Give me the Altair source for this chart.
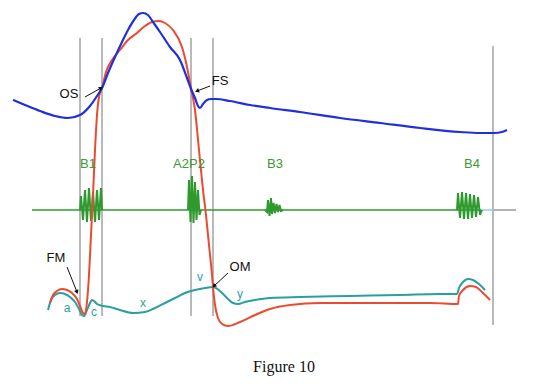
import altair as alt
import pandas as pd
import math

# ---- data (image-like units: x = time, y = inverted pressure) ----
aorta_x = [13, 25, 40, 55, 68, 80, 90, 97, 102, 108, 115, 122, 128, 134, 139, 143, 148, 153, 160, 170, 180, 187, 191, 195, 198, 200, 203, 207, 211, 216, 230, 250, 270, 300, 340, 380, 420, 460, 480, 494, 502, 507]
aorta_y = [100, 105, 111, 116, 118, 115, 106, 96, 88, 73, 57, 42, 30, 20, 14, 13, 15, 22, 32, 47, 60, 78, 89, 98, 106, 108, 104, 100, 99, 99, 101, 105, 108, 112, 118, 123, 128, 132, 133, 133, 132, 130]

lv_x = [50, 53, 57, 62, 67, 72, 77, 80, 83, 85, 87, 89, 91, 93, 95, 97, 99, 102, 106, 112, 120, 128, 137, 145, 152, 159, 165, 173, 182, 185, 188, 191, 195, 199, 203, 206, 209, 212, 213, 215, 218, 222, 228, 240, 255, 270, 290, 320, 380, 430, 458, 459, 463, 470, 476, 482, 490]
lv_y = [303, 295, 291, 289, 290, 293, 299, 306, 313, 314, 302, 275, 235, 195, 150, 115, 97, 88, 72, 60, 50, 40, 33, 26, 22, 21, 23, 30, 47, 58, 72, 88, 110, 150, 190, 215, 245, 275, 287, 305, 318, 324, 326, 322, 315, 309, 305, 303, 303, 303, 304, 296, 290, 286, 287, 292, 300]

la_x = [48, 51, 55, 60, 65, 70, 75, 79, 82, 84, 87, 90, 92, 94, 97, 103, 110, 120, 133, 145, 155, 165, 175, 185, 195, 205, 213, 220, 227, 233, 238, 245, 255, 270, 300, 350, 400, 440, 457, 459, 463, 468, 473, 479, 485]
la_y = [310, 300, 295, 293, 294, 297, 302, 309, 315, 316, 310, 303, 300, 301, 304, 306, 307, 310, 313, 312, 308, 303, 298, 293, 290, 288, 287, 291, 298, 303, 304, 302, 300, 298, 297, 296, 295, 294, 294, 288, 282, 279, 280, 284, 290]

b1_x = [80, 81, 83, 85, 87, 89, 91, 93, 95, 97, 99, 101, 102]
b1_y = [210, 196, 220, 190, 222, 188, 221, 192, 222, 190, 220, 188, 210]
a2p2_x = [188, 189, 190.5, 192, 193.5, 195, 196.5, 198, 199.5, 201]
a2p2_y = [210, 180, 222, 176, 223, 182, 220, 190, 215, 210]
b3_x = [265, 267, 268, 269.5, 271, 272, 273.5, 275, 276.5, 278, 279.5, 281, 283]
b3_y = [210, 212, 200, 216, 198, 214, 203, 213, 204, 212, 205, 211, 210]
b4_x = [457, 458, 460, 462, 464, 466, 468, 470, 472, 474, 476, 478, 480, 482]
b4_y = [210, 193, 218, 192, 219, 193, 219, 194, 218, 195, 217, 197, 215, 210]

phono_x = [32, 481]
phono_level = 210

markers_x = [80, 102, 191, 213, 493]
markers_top = [38, 38, 38, 38, 46]
markers_bot = [316, 316, 316, 316, 325]

sound_labels = ["B1", "A2P2", "B3", "B4"]
sound_lx = [88, 189, 275, 472]
sound_ly = [164, 164, 164, 164]

event_labels = ["OS", "FS", "FM", "OM"]
event_lx = [69, 220, 56, 240]
event_ly = [94, 81, 258, 267]
arrow_x1 = [85, 210, 67, 228]
arrow_y1 = [97, 86, 267, 273]
arrow_x2 = [101, 197, 77, 214]
arrow_y2 = [88, 91, 292, 286]

wave_labels = ["a", "c", "x", "v", "y"]
wave_lx = [67, 94, 143, 200, 240]
wave_ly = [308, 312, 303, 277, 294]

caption = "Figure 10"

# ---- scales mapping the drawing area ----
W, H = 522, 368
xs = alt.Scale(domain=[8, 8 + W], nice=False, zero=False)
ys = alt.Scale(domain=[8, 8 + H], nice=False, zero=False, reverse=True)
X = lambda f: alt.X(f, scale=xs, axis=None)
Y = lambda f: alt.Y(f, scale=ys, axis=None)

def curve(xv, yv, color, width=2, interp="monotone"):
    df = pd.DataFrame({"x": xv, "y": yv, "o": range(len(xv))})
    return alt.Chart(df).mark_line(color=color, strokeWidth=width, interpolate=interp).encode(
        x=X("x:Q"), y=Y("y:Q"), order="o:Q")

rules = alt.Chart(pd.DataFrame({"x": markers_x, "y": markers_top, "y2": markers_bot})).mark_rule(
    color="#8a8a8a", strokeWidth=1.2).encode(x=X("x:Q"), y=Y("y:Q"), y2="y2:Q")

phono = alt.Chart(pd.DataFrame({"x": [phono_x[0]], "x2": [phono_x[1]], "y": [phono_level]})).mark_rule(
    color="#2e9a2e", strokeWidth=1.3).encode(x=X("x:Q"), x2="x2:Q", y=Y("y:Q"))
phono_tail = alt.Chart(pd.DataFrame({"x": [481], "x2": [494], "y": [phono_level]})).mark_rule(
    color="#7ec8e8", strokeWidth=1.3).encode(x=X("x:Q"), x2="x2:Q", y=Y("y:Q"))
phono_end = alt.Chart(pd.DataFrame({"x": [494], "x2": [516], "y": [phono_level]})).mark_rule(
    color="#666666", strokeWidth=1).encode(x=X("x:Q"), x2="x2:Q", y=Y("y:Q"))

green = "#2e9a2e"
bursts = [curve(b1_x, b1_y, green, 2, "linear"), curve(a2p2_x, a2p2_y, green, 2, "linear"),
          curve(b3_x, b3_y, green, 2, "linear"), curve(b4_x, b4_y, green, 2, "linear")]

la = curve(la_x, la_y, "#2a9fa0", 2)
lv = curve(lv_x, lv_y, "#ec4a30", 2)
ao = curve(aorta_x, aorta_y, "#1f2fe0", 2.2)

snd = alt.Chart(pd.DataFrame({"t": sound_labels, "x": sound_lx, "y": sound_ly})).mark_text(
    color="#3a9a34", fontSize=13, font="Liberation Sans").encode(x=X("x:Q"), y=Y("y:Q"), text="t:N")

ev = alt.Chart(pd.DataFrame({"t": event_labels, "x": event_lx, "y": event_ly})).mark_text(
    color="#111111", fontSize=13, font="Liberation Sans").encode(x=X("x:Q"), y=Y("y:Q"), text="t:N")

adf = pd.DataFrame({"x": arrow_x1, "y": arrow_y1, "x2": arrow_x2, "y2": arrow_y2})
adf["ang"] = [(math.degrees(math.atan2(b - a, -(d - c))) + 360) % 360
              for a, b, c, d in zip(arrow_x1, arrow_x2, arrow_y1, arrow_y2)]
shafts = alt.Chart(adf).mark_rule(color="#111111", strokeWidth=1).encode(
    x=X("x:Q"), y=Y("y:Q"), x2="x2:Q", y2="y2:Q")
heads = alt.Chart(adf).mark_point(shape="triangle-up", filled=True, color="#111111", size=22, opacity=1).encode(
    x=X("x2:Q"), y=Y("y2:Q"), angle=alt.Angle("ang:Q", scale=None))

wv = alt.Chart(pd.DataFrame({"t": wave_labels, "x": wave_lx, "y": wave_ly})).mark_text(
    color="#2a9fa0", fontSize=12, font="Liberation Sans").encode(x=X("x:Q"), y=Y("y:Q"), text="t:N")

title = alt.Chart(pd.DataFrame({"t": [caption], "x": [284], "y": [372]})).mark_text(
    color="#111111", fontSize=16, font="Liberation Serif", baseline="alphabetic").encode(
    x=X("x:Q"), y=Y("y:Q"), text="t:N")

chart = alt.layer(rules, phono, phono_tail, phono_end, *bursts, la, lv, ao, snd, ev, shafts, heads, wv, title).properties(
    width=W, height=H, autosize="none", padding=0
).configure_view(stroke=None)

chart.save("out.html", embed_options={"renderer": "svg", "actions": False})
